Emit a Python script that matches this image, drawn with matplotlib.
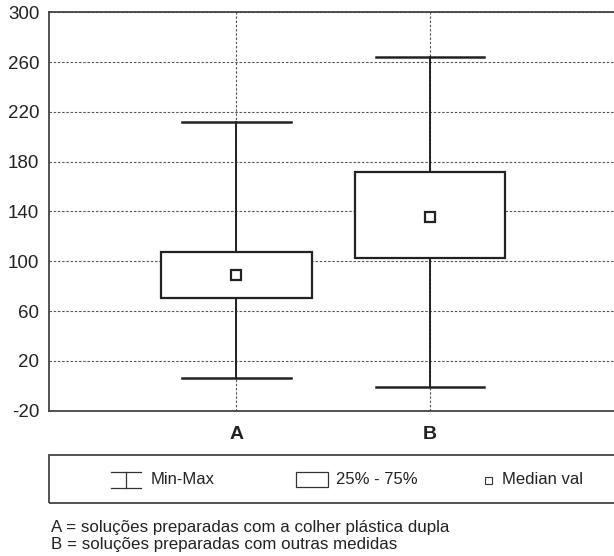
import matplotlib
matplotlib.use("Agg")
import matplotlib.pyplot as plt
from matplotlib.patches import Rectangle
from matplotlib.lines import Line2D

plt.rcParams['font.family'] = ['Liberation Sans', 'DejaVu Sans']

# ---- data ----
categories = ["A", "B"]
mins = [6.5, -1.0]
q1s = [70.5, 103.0]
medians = [89.0, 135.7]
q3s = [107.7, 171.7]
maxs = [212.0, 264.0]
yticks = [-20, 20, 60, 100, 140, 180, 220, 260, 300]
legend_labels = ["Min-Max", "25% - 75%", "Median val"]
footnotes = ["A = soluções preparadas com a colher plástica dupla",
             "B = soluções preparadas com outras medidas"]

W, H = 614, 556
fig = plt.figure(figsize=(W / 100, H / 100), dpi=100)

def fx(px):
    return px / W

def fy(py):
    return 1 - py / H

ax_left, ax_top, ax_bottom, ax_right = 49, 12.3, 410.7, 620
ax = fig.add_axes([fx(ax_left), fy(ax_bottom), fx(ax_right - ax_left),
                   (ax_bottom - ax_top) / H])

dark = "#222222"
stats = []
for c, lo, a, m, b, hi in zip(categories, mins, q1s, medians, q3s, maxs):
    stats.append(dict(label=c, whislo=lo, q1=a, med=m, q3=b, whishi=hi,
                      mean=m, fliers=[]))

positions = [1, 2]
ax.bxp(stats, positions=positions, widths=0.778, capwidths=0.563,
       showmeans=True, showfliers=False, patch_artist=True,
       boxprops=dict(facecolor="white", edgecolor=dark, linewidth=1.6),
       whiskerprops=dict(color=dark, linewidth=1.4),
       capprops=dict(color=dark, linewidth=1.8),
       medianprops=dict(linestyle="none"),
       meanprops=dict(marker="s", markersize=7, markerfacecolor="white",
                      markeredgecolor=dark, markeredgewidth=1.6),
       zorder=3)

px_per_unit = 193.5
x0 = 1 - (236.5 - ax_left) / px_per_unit
ax.set_xlim(x0, x0 + (ax_right - ax_left) / px_per_unit)
ax.set_ylim(-20, 300)
ax.set_yticks(yticks)
ax.set_yticklabels([str(v) for v in yticks], fontsize=13.5, color="#222222")
ax.set_xticks(positions)
ax.set_xticklabels(categories, fontsize=14, fontweight="bold", color="#222222")
ax.tick_params(axis="both", length=0)
ax.tick_params(axis="y", pad=7)
ax.tick_params(axis="x", pad=11)
ax.grid(True, linestyle=(0, (2.2, 1.6)), color="#555555", linewidth=0.8, zorder=0)
ax.set_axisbelow(True)
for s in ["left", "bottom", "top"]:
    ax.spines[s].set_color("#444444")
    ax.spines[s].set_linewidth(1.3)
ax.spines["right"].set_visible(False)

# ---- legend box ----
lg_l, lg_t, lg_b = 49, 455, 503
fig.patches.append(Rectangle((fx(lg_l), fy(lg_b)), fx(W + 10 - lg_l), (lg_b - lg_t) / H,
                             transform=fig.transFigure, facecolor="none",
                             edgecolor="#444444", linewidth=1.3))
lc = "#333333"
# Min-Max symbol
for yy in (472, 488):
    fig.lines.append(Line2D([fx(111), fx(141)], [fy(yy), fy(yy)], transform=fig.transFigure,
                            color=lc, linewidth=0.9))
fig.lines.append(Line2D([fx(126), fx(126)], [fy(472), fy(488)], transform=fig.transFigure,
                        color=lc, linewidth=0.9))
fig.text(fx(151), fy(480), legend_labels[0], fontsize=12, va="center", ha="left", color="#222222")
# box symbol
fig.patches.append(Rectangle((fx(296), fy(487)), fx(31.5), 15 / H, transform=fig.transFigure,
                             facecolor="white", edgecolor=lc, linewidth=0.9))
fig.text(fx(335.5), fy(480), legend_labels[1], fontsize=12, va="center", ha="left", color="#222222")
# median symbol
fig.patches.append(Rectangle((fx(484.5), fy(484)), fx(7.5), 7.5 / H, transform=fig.transFigure,
                             facecolor="white", edgecolor=lc, linewidth=0.8))
fig.text(fx(502), fy(480), legend_labels[2], fontsize=12, va="center", ha="left", color="#222222")

# ---- footnotes ----
fig.text(fx(51), fy(527.5), footnotes[0], fontsize=12.2, va="center", ha="left", color="#222222")
fig.text(fx(51), fy(545), footnotes[1], fontsize=12.2, va="center", ha="left", color="#222222")

fig.savefig("out.png", dpi=100)
